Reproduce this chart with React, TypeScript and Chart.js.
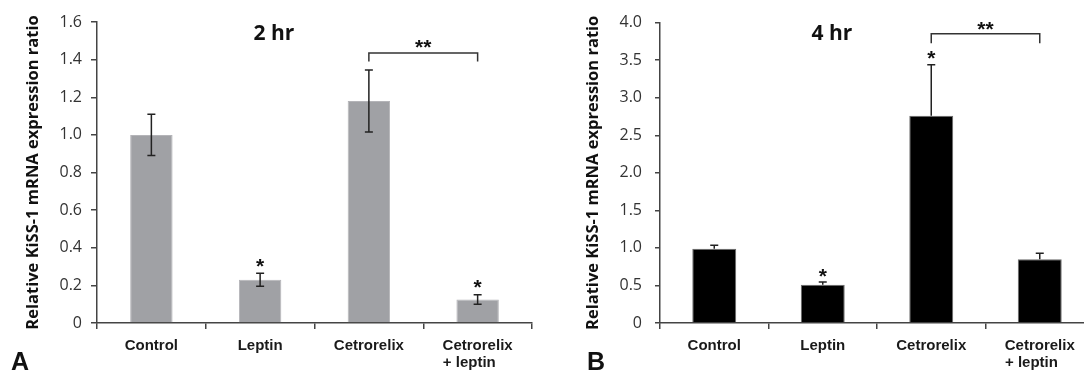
import React, { useEffect, useRef } from 'react';
import { Chart, registerables } from 'chart.js';

Chart.register(...registerables);

// ---- data ----
const categories: string[][] = [['Control'], ['Leptin'], ['Cetrorelix'], ['Cetrorelix', '+ leptin    ']];

const hr2Values = [1.0, 0.23, 1.18, 0.125];
const hr2Errors = [0.11, 0.035, 0.165, 0.025];
const hr2Stars = [false, true, false, true];
const hr2TickValues = [0, 0.2, 0.4, 0.6, 0.8, 1.0, 1.2, 1.4, 1.6];
const hr2TickLabels = ['0', '0.2', '0.4', '0.6', '0.8', '1.0', '1.2', '1.4', '1.6'];

const hr4Values = [0.99, 0.51, 2.76, 0.85];
const hr4Errors = [0.045, 0.035, 0.68, 0.08];
const hr4Stars = [false, true, true, false];
const hr4TickValues = [0, 0.5, 1.0, 1.5, 2.0, 2.5, 3.0, 3.5, 4.0];
const hr4TickLabels = ['0', '0.5', '1.0', '1.5', '2.0', '2.5', '3.0', '3.5', '4.0'];

// significance bracket (between Cetrorelix and Cetrorelix + leptin), in data units
const hr2Bracket = { from: 2, to: 3, level: 1.435, tip: 1.39 };
const hr4Bracket = { from: 2, to: 3, level: 3.85, tip: 3.725 };

const yTitle = 'Relative KiSS-1 mRNA expression ratio';

type Panel = {
  title: string;
  letter: string;
  values: number[];
  errors: number[];
  stars: boolean[];
  tickValues: number[];
  tickLabels: string[];
  max: number;
  bracket: { from: number; to: number; level: number; tip: number };
  barColor: string;
  barBorder: string;
  barPct: number;
  axisWidth: number;
  padRight: number;
  tickLen: number;
  tickPad: number;
  titleX: number;
  letterX: number;
  yTitleX: number;
  starOffset: number;
  bracketTextGap: number;
  lowerWhisker: boolean;
};

const panelA: Panel = {
  title: '2 hr',
  letter: 'A',
  values: hr2Values,
  errors: hr2Errors,
  stars: hr2Stars,
  tickValues: hr2TickValues,
  tickLabels: hr2TickLabels,
  max: 1.6,
  bracket: hr2Bracket,
  barColor: '#a0a1a5',
  barBorder: '#b4b4b8',
  barPct: 0.39,
  axisWidth: 97,
  padRight: 13,
  tickLen: 6,
  tickPad: 9,
  titleX: 274,
  letterX: 20,
  yTitleX: 33.5,
  starOffset: 12,
  bracketTextGap: 11,
  lowerWhisker: true,
};

const panelB: Panel = {
  title: '4 hr',
  letter: 'B',
  values: hr4Values,
  errors: hr4Errors,
  stars: hr4Stars,
  tickValues: hr4TickValues,
  tickLabels: hr4TickLabels,
  max: 4.0,
  bracket: hr4Bracket,
  barColor: '#000000',
  barBorder: '#6a6a6a',
  barPct: 0.405,
  axisWidth: 100,
  padRight: 11,
  tickLen: 5,
  tickPad: 13,
  titleX: 272,
  letterX: 36,
  yTitleX: 33,
  starOffset: 11,
  bracketTextGap: 9,
  lowerWhisker: false,
};

function makeAnnot(p: Panel) {
  return {
    id: 'annot',
    afterDatasetsDraw(chart: any) {
      const ctx = chart.ctx as CanvasRenderingContext2D;
      const meta = chart.getDatasetMeta(0);
      const ys = chart.scales.y;
      ctx.save();
      // error bars
      ctx.strokeStyle = '#222';
      ctx.lineWidth = 1.5;
      p.values.forEach((v, i) => {
        const x = meta.data[i].x;
        const top = ys.getPixelForValue(v + p.errors[i]);
        const bot = p.lowerWhisker ? ys.getPixelForValue(v - p.errors[i]) : ys.getPixelForValue(v);
        ctx.beginPath();
        ctx.moveTo(x, top);
        ctx.lineTo(x, bot);
        ctx.moveTo(x - 4, top);
        ctx.lineTo(x + 4, top);
        if (p.lowerWhisker) {
          ctx.moveTo(x - 4, bot);
          ctx.lineTo(x + 4, bot);
        }
        ctx.stroke();
        if (p.stars[i]) {
          ctx.fillStyle = '#111';
          ctx.font = 'bold 21px "Liberation Sans", Arial, sans-serif';
          ctx.textAlign = 'center';
          ctx.textBaseline = 'alphabetic';
          ctx.fillText('*', x, top - p.starOffset + 11.5);
        }
      });
      // bracket
      const b = p.bracket;
      const x1 = meta.data[b.from].x;
      const x2 = meta.data[b.to].x;
      const yl = ys.getPixelForValue(b.level);
      const yt = ys.getPixelForValue(b.tip);
      ctx.strokeStyle = '#333';
      ctx.lineWidth = 1.5;
      ctx.beginPath();
      ctx.moveTo(x1, yt);
      ctx.lineTo(x1, yl);
      ctx.lineTo(x2, yl);
      ctx.lineTo(x2, yt);
      ctx.stroke();
      ctx.fillStyle = '#111';
      ctx.font = 'bold 21px "Liberation Sans", Arial, sans-serif';
      ctx.textAlign = 'center';
      ctx.textBaseline = 'alphabetic';
      ctx.fillText('**', (x1 + x2) / 2, yl - p.bracketTextGap + 11.5);
      // panel title
      ctx.font = 'bold 21px "Open Sans", sans-serif';
      ctx.fillStyle = '#111';
      ctx.fillText(p.title, p.titleX, 40);
      // letter
      ctx.font = 'bold 25px "Liberation Sans", Arial, sans-serif';
      ctx.fillText(p.letter, p.letterX, 370);
      // y title
      const ca = chart.chartArea;
      ctx.translate(p.yTitleX, (ca.top + ca.bottom) / 2);
      ctx.rotate(-Math.PI / 2);
      ctx.font = 'bold 16.5px "Open Sans", sans-serif';
      ctx.textBaseline = 'middle';
      ctx.fillText(yTitle, 0, 0);
      ctx.restore();
    },
  };
}

function PanelChart({ left, width, p }: { left: number; width: number; p: Panel }) {
  const ref = useRef<HTMLCanvasElement | null>(null);
  useEffect(() => {
    if (!ref.current) return;
    const chart = new Chart(ref.current, {
      type: 'bar',
      data: {
        labels: categories as any,
        datasets: [
          {
            data: p.values,
            backgroundColor: p.barColor,
            borderColor: p.barBorder,
            borderWidth: 1,
            categoryPercentage: 1,
            barPercentage: p.barPct,
          },
        ],
      },
      options: {
        animation: false,
        responsive: false,
        layout: { padding: { left: 0, right: p.padRight, top: 22, bottom: 0 } },
        plugins: {
          legend: { display: false },
          tooltip: { enabled: false },
          title: { display: false },
        },
        scales: {
          x: {
            grid: {
              display: true,
              drawOnChartArea: false,
              drawTicks: true,
              tickLength: 6,
              color: '#444',
              lineWidth: 1.5,
              offset: true,
            },
            border: { display: true, color: '#444', width: 1.5 },
            ticks: {
              font: { family: '"Liberation Sans", Arial, sans-serif', weight: 'bold', size: 15, lineHeight: 1.1 },
              color: '#1a1a1a',
              padding: 9,
              maxRotation: 0,
              autoSkip: false,
            },
            afterFit: (s: any) => {
              s.height = 49;
            },
          },
          y: {
            min: 0,
            max: p.max,
            grid: {
              display: true,
              drawOnChartArea: false,
              drawTicks: true,
              tickLength: p.tickLen,
              color: '#444',
              lineWidth: 1.5,
            },
            border: { display: true, color: '#444', width: 1.5 },
            ticks: {
              font: { family: '"Open Sans", sans-serif', size: 16 },
              color: '#333',
              padding: p.tickPad,
              callback: (v: any) => {
                const idx = p.tickValues.findIndex((t) => Math.abs(t - Number(v)) < 1e-6);
                return idx >= 0 ? p.tickLabels[idx] : '';
              },
            },
            afterBuildTicks: (s: any) => {
              s.ticks = p.tickValues.map((v) => ({ value: v }));
            },
            afterFit: (s: any) => {
              s.width = p.axisWidth;
            },
          },
        },
      } as any,
      plugins: [makeAnnot(p)],
    });
    return () => chart.destroy();
  }, []);
  return (
    <div style={{ position: 'absolute', left, top: 0, width, height: 372 }}>
      <canvas ref={ref} width={width} height={372} style={{ width, height: 372, display: 'block' }} />
    </div>
  );
}

export default function App() {
  return (
    <div
      style={{
        position: 'fixed',
        left: 0,
        top: 0,
        width: 1084,
        height: 372,
        overflow: 'hidden',
        background: '#fff',
      }}
    >
      <PanelChart left={0} width={545} p={panelA} />
      <PanelChart left={560} width={545} p={panelB} />
    </div>
  );
}
